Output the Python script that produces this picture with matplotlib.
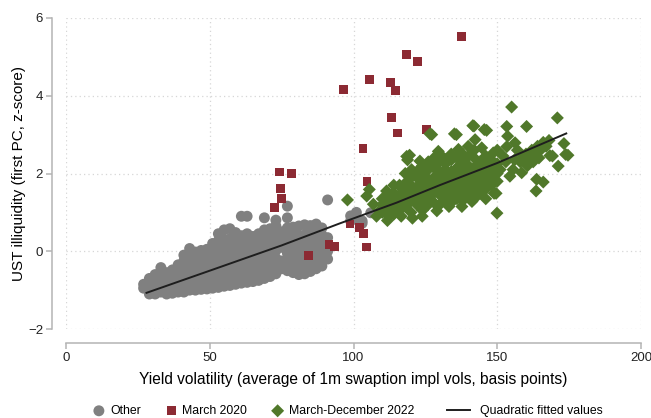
import numpy as np
import matplotlib
matplotlib.use("Agg")
import matplotlib.pyplot as plt

plt.rcParams['font.family'] = ['Liberation Sans', 'DejaVu Sans']

# "Other" days: columns of yield vol -> illiquidity readings
other_cols = {
    27: [-0.95, -0.85],
    29: [-1.1, -0.95, -0.8, -0.7],
    31: [-1.1, -0.92, -0.75, -0.6],
    33: [-1.05, -0.88, -0.7, -0.52, -0.42],
    35: [-1.1, -0.9, -0.72, -0.55],
    37: [-1.08, -0.9, -0.72, -0.55, -0.48],
    39: [-1.05, -0.88, -0.7, -0.52, -0.35],
    41: [-1.05, -0.85, -0.65, -0.45, -0.25, -0.1],
    43: [-1.0, -0.82, -0.62, -0.42, -0.22, -0.05, 0.07],
    45: [-1.0, -0.8, -0.6, -0.4, -0.2, -0.02],
    47: [-0.98, -0.78, -0.58, -0.38, -0.18, 0.02],
    49: [-0.97, -0.77, -0.57, -0.37, -0.17, 0.05],
    51: [-0.95, -0.75, -0.55, -0.35, -0.15, 0.05, 0.2],
    53: [-0.93, -0.73, -0.53, -0.33, -0.13, 0.07, 0.27, 0.45],
    55: [-0.9, -0.7, -0.5, -0.3, -0.1, 0.1, 0.3, 0.55],
    57: [-0.88, -0.68, -0.48, -0.28, -0.08, 0.12, 0.32, 0.58],
    59: [-0.85, -0.65, -0.45, -0.25, -0.05, 0.15, 0.35, 0.48],
    61: [-0.82, -0.62, -0.42, -0.22, -0.02, 0.18, 0.4, 0.9],
    63: [-0.8, -0.6, -0.4, -0.2, 0.0, 0.2, 0.45, 0.9],
    65: [-0.78, -0.58, -0.38, -0.18, 0.02, 0.22, 0.38],
    67: [-0.75, -0.55, -0.35, -0.15, 0.05, 0.25, 0.45],
    69: [-0.7, -0.5, -0.3, -0.1, 0.1, 0.3, 0.55, 0.86],
    71: [-0.65, -0.45, -0.25, -0.05, 0.15, 0.35, 0.58],
    73: [-0.58, -0.38, -0.18, 0.02, 0.22, 0.42, 0.65, 0.8],
    75: [-0.45, -0.25, 0.1, 0.3, 0.5],
    77: [-0.5, -0.3, -0.05, 0.15, 0.35, 0.6, 0.86, 1.16],
    79: [-0.55, -0.35, -0.15, 0.05, 0.25, 0.45, 0.62],
    81: [-0.6, -0.4, -0.2, 0.0, 0.2, 0.4, 0.65],
    83: [-0.58, -0.38, -0.18, 0.02, 0.22, 0.42, 0.68],
    85: [-0.52, -0.32, -0.12, 0.08, 0.28, 0.48, 0.66],
    87: [-0.45, -0.25, -0.05, 0.15, 0.35, 0.55, 0.7],
    89: [-0.38, -0.18, 0.02, 0.22, 0.42, 0.6],
    91: [-0.2, 0.0, 0.2, 0.35, 1.32],
    99: [0.78, 0.91],
    101: [0.85, 1.0],
    103: [0.72, 0.78],
    106: [0.99],
}

mar20_x = [137.7, 118.4, 122.3, 105.7, 113.0, 114.5, 96.4, 113.3, 115.2, 125.3,
           103.3, 104.7, 74.2, 78.3, 74.7, 74.9, 72.5, 98.8, 102.1, 103.6,
           104.6, 91.5, 93.4, 84.4]
mar20_y = [5.52, 5.06, 4.88, 4.41, 4.34, 4.13, 4.16, 3.45, 3.04, 3.13,
           2.64, 1.80, 2.04, 2.00, 1.61, 1.36, 1.13, 0.70, 0.62, 0.45,
           0.11, 0.17, 0.13, -0.11]

# March-December 2022: scattered edge points
y22_x = [97.9, 104.6, 105.5, 106.9, 108, 109.2, 111.5, 112.1, 111.8, 113.6,
         116.6, 116.2, 118.5, 119.5, 118.8, 120.2, 120.5, 123.1, 123.7, 123.9,
         126.6, 127.2, 129.5, 129, 132.2, 133.2, 135.1, 135.8, 136.5, 137.7,
         139.9, 141.2, 141.5, 141.9, 142.3, 144.6, 145.5, 146.3, 146, 146.3,
         148.6, 148.9, 149.6, 149.9, 151, 153.3, 153.6, 153.3, 154.4, 155,
         156.2, 158.5, 160.2, 163.7, 163.5, 166, 168.3, 169.2, 170.9, 171.2,
         173.2, 173.8, 174.6,
         158, 159, 160, 161, 162, 163, 164, 165, 166, 167,
         168, 160.5, 162.5, 164.5, 157, 156, 155.5, 153, 152, 150]
y22_y = [1.32, 1.42, 1.59, 1.21, 0.9, 1.05, 1.55, 0.91, 0.79, 0.98,
         0.90, 1.67, 2.44, 2.47, 2.35, 2.10, 0.85, 2.32, 2.15, 0.90,
         3.02, 3.0, 2.57, 1.04, 2.36, 1.15, 3.02, 3.0, 2.62, 1.15,
         2.70, 1.28, 3.23, 3.22, 2.87, 2.66, 3.13, 3.11, 1.35, 1.76,
         2.53, 1.49, 1.49, 0.98, 2.10, 3.21, 2.96, 2.69, 1.93, 3.71,
         2.79, 2.02, 3.21, 1.85, 1.55, 1.78, 2.46, 2.45, 3.43, 2.19,
         2.77, 2.49, 2.47,
         2.3, 2.45, 2.5, 2.35, 2.6, 2.5, 2.7, 2.6, 2.8, 2.7,
         2.85, 2.2, 2.3, 2.4, 2.6, 2.35, 2.1, 2.3, 2.45, 2.25]

# March-December 2022: dense core, by column
y22_cols = {
    110: [1.0, 1.2, 1.35],
    112: [1.1, 1.25, 1.4],
    114: [0.95, 1.1, 1.3, 1.5, 1.7],
    116: [1.05, 1.25, 1.45, 1.7],
    118: [1.15, 1.35, 1.55, 1.75, 2.0],
    120: [1.0, 1.3, 1.5, 1.7, 1.9],
    122: [1.2, 1.45, 1.65, 1.9, 2.05],
    124: [1.05, 1.3, 1.55, 1.75, 2.0, 2.2],
    126: [1.2, 1.4, 1.6, 1.85, 2.1, 2.3],
    128: [1.25, 1.5, 1.7, 1.9, 2.15, 2.4],
    130: [1.2, 1.45, 1.65, 1.85, 2.05, 2.3, 2.5],
    132: [1.3, 1.5, 1.7, 1.9, 2.1, 2.25],
    134: [1.25, 1.45, 1.65, 1.85, 2.05, 2.35, 2.5],
    136: [1.35, 1.55, 1.75, 1.95, 2.15, 2.4],
    138: [1.3, 1.5, 1.7, 1.9, 2.1, 2.3, 2.5],
    140: [1.4, 1.6, 1.8, 2.0, 2.2, 2.45],
    142: [1.35, 1.55, 1.75, 1.95, 2.15, 2.4, 2.6],
    144: [1.5, 1.7, 1.9, 2.1, 2.3],
    146: [1.6, 1.95, 2.2, 2.45],
    148: [1.7, 1.9, 2.1, 2.35],
    150: [1.8, 2.0, 2.6],
}

# quadratic fitted values
fit_x = [28, 50, 75, 95, 115, 130, 150, 174]
fit_y = [-1.07, -0.5, 0.15, 0.71, 1.25, 1.70, 2.27, 3.03]

other_x = [x for x, ys in other_cols.items() for _ in ys]
other_y = [y for ys in other_cols.values() for y in ys]
core_x = [x for x, ys in y22_cols.items() for _ in ys]
core_y = [y for ys in y22_cols.values() for y in ys]

gray = '#808080'
red = '#8c2a33'
green = '#50782a'
axcol = '#b4b4b4'

fig = plt.figure(figsize=(6.51, 4.18), dpi=100)
ax = fig.add_axes([66/651, 89/418, 575/651, 311/418])

h1 = ax.scatter(other_x, other_y, s=62, c=gray, edgecolors='none', label='Other', zorder=3)
h2 = ax.scatter(mar20_x, mar20_y, s=40, marker='s', c=red, edgecolors='none', label='March 2020', zorder=4)
h3 = ax.scatter(y22_x + core_x, y22_y + core_y, s=44, marker='D', c=green, edgecolors='none',
                label='March-December 2022', zorder=5)
h4, = ax.plot(fit_x, fit_y, color='#1e1e1e', lw=1.4, label='Quadratic fitted values', zorder=6)

ax.set_xlim(0, 200)
ax.set_ylim(-2, 6)
ax.set_xticks([0, 50, 100, 150, 200])
ax.set_yticks([-2, 0, 2, 4, 6])
ax.grid(True, color='#d6d6d6', linestyle=(0, (1, 2.5)), linewidth=0.9)
ax.set_axisbelow(True)

for s in ['top', 'right']:
    ax.spines[s].set_visible(False)
for s in ['left', 'bottom']:
    ax.spines[s].set_position(('outward', 10))
    ax.spines[s].set_color(axcol)
    ax.spines[s].set_linewidth(1.1)
ax.tick_params(length=4, width=1.1, color=axcol, labelsize=9.5, labelcolor='#222222', pad=2.5)

ax.set_xlabel('Yield volatility (average of 1m swaption impl vols, basis points)', fontsize=11.2, labelpad=6)
ax.set_ylabel('UST illiquidity (first PC, z-score)', fontsize=11)
ax.yaxis.set_label_coords(-0.07, 0.5)

# legend in two parts: marker entries, then the line entry
ly = 7 / 418
leg1 = fig.legend([h1, h2, h3], ['Other', 'March 2020', 'March-December 2022'],
                  loc='center left', bbox_to_anchor=(94/651, ly), ncol=3, frameon=False,
                  fontsize=8.8, handlelength=0.8, handletextpad=0.5, columnspacing=2.1,
                  borderpad=0, borderaxespad=0, scatterpoints=1)
leg2 = fig.legend([h4], ['Quadratic fitted values'],
                  loc='center left', bbox_to_anchor=(447/651, ly), frameon=False,
                  fontsize=8.8, handlelength=1.9, handletextpad=0.8,
                  borderpad=0, borderaxespad=0)

fig.savefig('out.png', dpi=100)
